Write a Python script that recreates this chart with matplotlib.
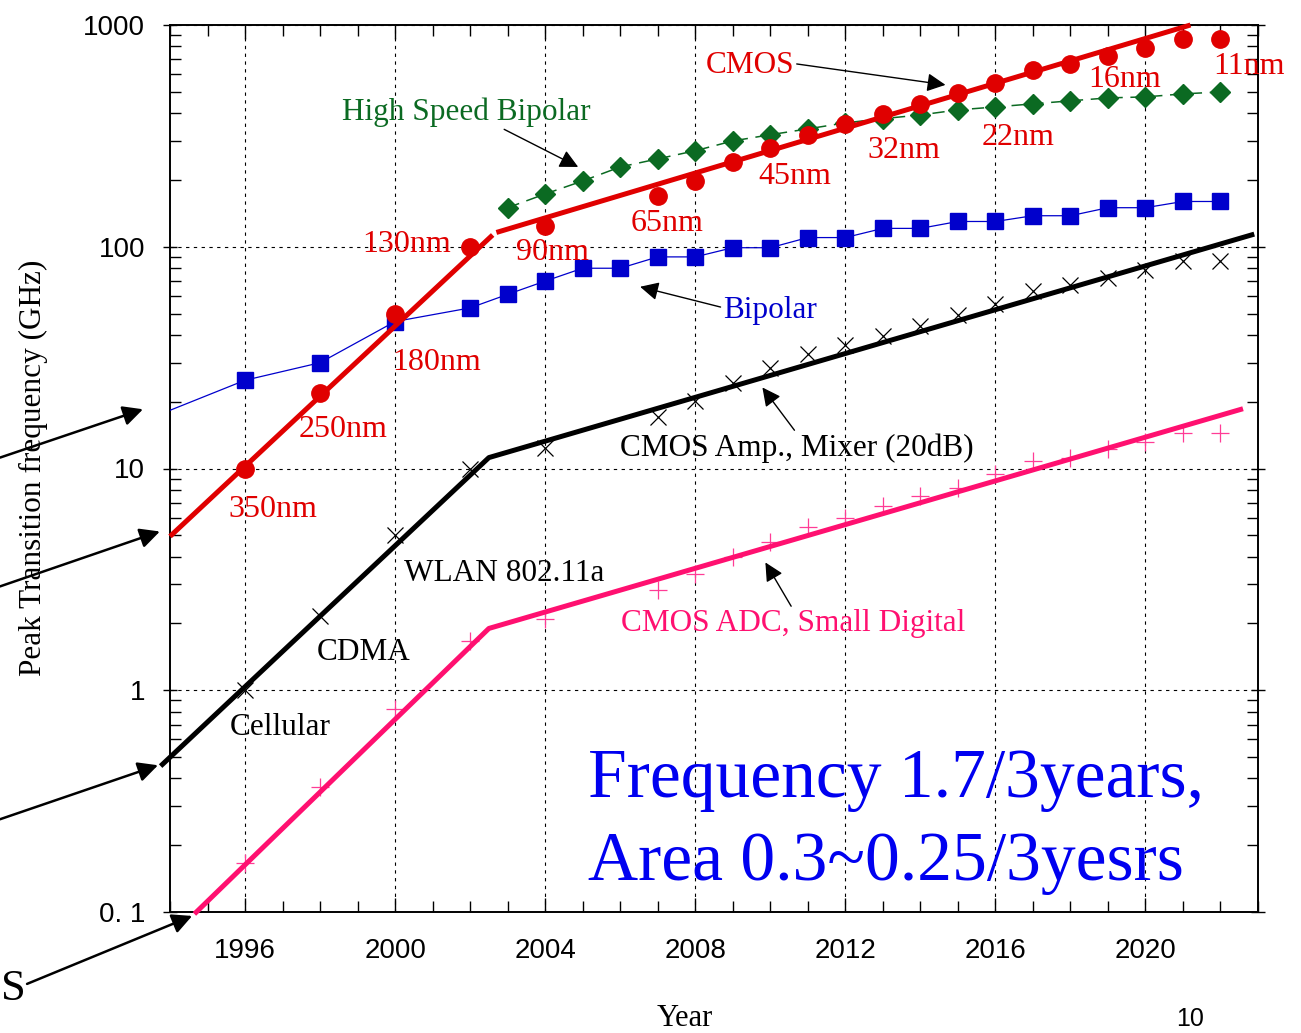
import matplotlib
matplotlib.use("Agg")
import matplotlib.pyplot as plt
from matplotlib.ticker import FixedLocator, FixedFormatter, LogLocator, NullFormatter, MultipleLocator

plt.rcParams['font.family'] = ['Liberation Serif', 'DejaVu Serif']

# CMOS peak fT (red circles)
cmos_years = [1996, 1998, 2000, 2002, 2004, 2007, 2008, 2009, 2010, 2011, 2012,
              2013, 2014, 2015, 2016, 2017, 2018, 2019, 2020, 2021, 2022]
cmos_ft = [10, 22, 50, 100, 124, 170, 198, 242, 279, 320, 358,
           397, 441, 494, 548, 627, 667, 724, 788, 865, 865]

# high speed bipolar (green diamonds)
hsb_years = list(range(2003, 2023))
hsb_ft = [150, 173, 198, 229, 249, 271, 300, 320, 340, 362,
          378, 393, 414, 427, 441, 455, 469, 474, 489, 499]

# bipolar (blue squares), line starts at the left edge
bip_years = [1996, 1998, 2000, 2002, 2003, 2004, 2005, 2006, 2007, 2008, 2009, 2010,
             2011, 2012, 2013, 2014, 2015, 2016, 2017, 2018, 2019, 2020, 2021, 2022]
bip_ft = [25, 30, 46, 53, 61, 70, 80, 80, 90, 90, 99, 99,
          110, 110, 121, 121, 130, 130, 138, 138, 150, 150, 160, 160]
bip_line_years = [1994] + bip_years
bip_line_ft = [18.3] + bip_ft

# CMOS amp / mixer (x) and CMOS ADC / small digital (+)
app_years = [1996, 1998, 2000, 2002, 2004, 2007, 2008, 2009, 2010, 2011, 2012,
             2013, 2014, 2015, 2016, 2017, 2018, 2019, 2020, 2021, 2022]
amp_ft = [1.0, 2.16, 5.0, 10, 12.4, 17, 20.1, 24.2, 28.5, 32.7, 36.2,
          39.7, 44, 49.4, 55.3, 63.4, 67.4, 72.4, 78.7, 86.5, 86]
adc_ft = [0.166, 0.366, 0.82, 1.66, 2.09, 2.82, 3.33, 3.97, 4.64, 5.42, 6.0,
          6.8, 7.5, 8.2, 9.4, 10.8, 11.2, 12.2, 13.1, 14.4, 14.4]

# trend lines (broken at ~2002.5)
cmos_fit1_years = [1994, 2002.6]
cmos_fit1 = [4.94, 113]
cmos_fit2_years = [2002.7, 2021.2]
cmos_fit2 = [116, 1000]
amp_fit_years = [1993.75, 2002.5, 2022.9]
amp_fit = [0.455, 11.2, 114]
adc_fit_years = [1994.65, 2002.5, 2022.6]
adc_fit = [0.098, 1.9, 18.6]

node_labels = ['350nm', '250nm', '180nm', '130nm', '90nm', '65nm', '45nm', '32nm', '22nm', '16nm', '11nm']

RED = '#e00000'
BLUE = '#0000cc'
GREEN = '#0b6a22'
PINK = '#ff1070'

W, H = 1301, 1033
fig = plt.figure(figsize=(W / 100, H / 100), dpi=100)
ax = fig.add_axes([170 / W, 1 - 912 / H, (1258 - 170) / W, (912 - 25) / H])

# markers
ax.plot(bip_line_years, bip_line_ft, '-', color=BLUE, lw=0.9, zorder=3)
ax.plot(bip_years, bip_ft, 's', color=BLUE, ms=11, zorder=4)
ax.plot(hsb_years, hsb_ft, color=GREEN, lw=1.1, ls=(0, (8, 5)), marker='D', ms=10, zorder=4)
ax.plot(cmos_years, cmos_ft, 'o', color=RED, ms=12.5, zorder=4)
ax.plot(app_years, amp_ft, 'x', color='black', ms=11, mew=0.9, zorder=4)
ax.plot(app_years, adc_ft, '+', color='#ff3c96', ms=13, mew=0.9, zorder=4)

# trend lines
ax.plot(cmos_fit1_years, cmos_fit1, color=RED, lw=3.6, solid_capstyle='butt', zorder=5, clip_on=False)
ax.plot(cmos_fit2_years, cmos_fit2, color=RED, lw=3.6, solid_capstyle='butt', zorder=5, clip_on=False)
ax.plot(amp_fit_years, amp_fit, color='black', lw=3.6, solid_capstyle='butt', zorder=5, clip_on=False)
ax.plot(adc_fit_years, adc_fit, color=PINK, lw=3.6, solid_capstyle='butt', zorder=5, clip_on=False)

ax.set_yscale('log')
ax.set_xlim(1994, 2023)
ax.set_ylim(0.1, 1000)

ax.xaxis.set_major_locator(FixedLocator([1996, 2000, 2004, 2008, 2012, 2016, 2020]))
ax.xaxis.set_minor_locator(MultipleLocator(1))
ax.yaxis.set_major_locator(FixedLocator([0.1, 1, 10, 100, 1000]))
ax.yaxis.set_major_formatter(FixedFormatter(['0. 1', '1', '10', '100', '1000']))
ax.yaxis.set_minor_locator(LogLocator(base=10, subs=range(2, 10)))
ax.yaxis.set_minor_formatter(NullFormatter())

ax.tick_params(which='both', direction='in', top=True, right=True, width=1, color='black')
ax.tick_params(which='major', length=10)
ax.tick_params(axis='y', which='major', direction='inout')
ax.tick_params(which='minor', length=8)
ax.tick_params(axis='x', which='major', labelsize=20, pad=19, labelfontfamily='Liberation Sans')
ax.tick_params(axis='y', which='major', labelsize=20, pad=13, labelfontfamily='Liberation Sans')
ax.grid(which='major', color='black', lw=0.8, ls=(0, (3, 4)))
for s in ax.spines.values():
    s.set_linewidth(1.4)

# node labels next to the CMOS points
node_pos = [(1996.75, 6.5), (1998.6, 15), (2001.1, 30), (2000.3, 102), (2004.2, 94), (2007.25, 127),
            (2010.65, 207), (2013.55, 271), (2016.6, 310), (2019.45, 565), (2022.75, 647)]
for lab, (xx, yy) in zip(node_labels, node_pos):
    ax.text(xx, yy, lab, color=RED, fontsize=23, ha='center', va='center', zorder=6)

ax.text(2002.9, 3.37, 'WLAN 802.11a', fontsize=22.5, ha='center', va='center')
ax.text(1999.15, 1.48, 'CDMA', fontsize=22.5, ha='center', va='center')
ax.text(1996.95, 0.68, 'Cellular', fontsize=22.5, ha='center', va='center')

arrow = dict(arrowstyle='-|>', color='black', lw=1, mutation_scale=28, shrinkA=0, shrinkB=0)
ax.annotate('CMOS', xy=(2014.67, 537), xytext=(2009.45, 660), color=RED, fontsize=22.5,
            ha='center', va='center', arrowprops=dict(arrow, relpos=(1, 0.55)))
ax.annotate('High Speed Bipolar', xy=(2004.88, 229), xytext=(2001.9, 406), color=GREEN, fontsize=22.5,
            ha='center', va='center', arrowprops=dict(arrow, relpos=(0.63, 0)))
ax.annotate('Bipolar', xy=(2006.53, 66), xytext=(2010.0, 51.5), color=BLUE, fontsize=22.5,
            ha='center', va='center', arrowprops=dict(arrow, relpos=(0, 0.6)))
ax.annotate('CMOS Amp., Mixer (20dB)', xy=(2009.79, 23.2), xytext=(2010.7, 12.4), color='black',
            fontsize=22.5, ha='center', va='center', arrowprops=dict(arrow, relpos=(0.5, 1)))
ax.annotate('CMOS ADC, Small Digital', xy=(2009.87, 3.77), xytext=(2010.6, 2.0), color=PINK,
            fontsize=22.5, ha='center', va='center', arrowprops=dict(arrow, relpos=(0.5, 1)))

# arrows coming in from outside the plot
big_arrow = dict(arrowstyle='-|>', color='black', lw=1.8, mutation_scale=30, shrinkA=0, shrinkB=0)
for (x0, y0), (x1, y1) in [((1989.47, 11.2), (1993.28, 18.5)),
                           ((1989.47, 2.94), (1993.73, 5.2)),
                           ((1989.47, 0.262), (1993.68, 0.459)),
                           ((1990.19, 0.0474), (1994.59, 0.096))]:
    ax.annotate('', xy=(x1, y1), xytext=(x0, y0), arrowprops=big_arrow, annotation_clip=False)

fig.text(588 / W, 1 - 797 / H, 'Frequency 1.7/3years,', color='#0000f0', fontsize=50, va='baseline')
fig.text(588 / W, 1 - 880 / H, 'Area 0.3~0.25/3yesrs', color='#0000f0', fontsize=50, va='baseline')

fig.text(33 / W, 1 - 468 / H, 'Peak Transition frequency (GHz)', rotation=90, fontsize=22.5,
         ha='center', va='center')
fig.text(685 / W, 1 - 1018 / H, 'Year', fontsize=22, ha='center', va='center')
fig.text(1 / W, 1 - 1000 / H, 'S', fontsize=32, ha='left', va='baseline')
fig.text(1190 / W, 1 - 1031 / H, '10', fontsize=18, ha='center', va='bottom', family='Liberation Sans')

fig.savefig('out.png', dpi=100)
